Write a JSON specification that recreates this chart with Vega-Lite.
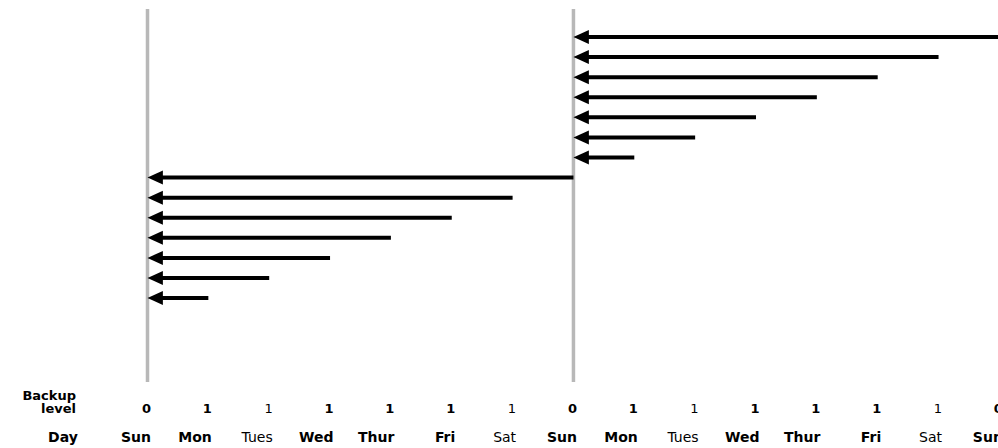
{
  "$schema": "https://vega.github.io/schema/vega-lite/v6.json",
  "width": 998,
  "height": 448,
  "autosize": {"type": "none"},
  "padding": 0,
  "background": "white",
  "config": {"view": {"stroke": null}},
  "datasets": {
    "arrows": [
      {"day": 14, "target": 7, "row": 0},
      {"day": 13, "target": 7, "row": 1},
      {"day": 12, "target": 7, "row": 2},
      {"day": 11, "target": 7, "row": 3},
      {"day": 10, "target": 7, "row": 4},
      {"day": 9, "target": 7, "row": 5},
      {"day": 8, "target": 7, "row": 6},
      {"day": 7, "target": 0, "row": 7},
      {"day": 6, "target": 0, "row": 8},
      {"day": 5, "target": 0, "row": 9},
      {"day": 4, "target": 0, "row": 10},
      {"day": 3, "target": 0, "row": 11},
      {"day": 2, "target": 0, "row": 12},
      {"day": 1, "target": 0, "row": 13}
    ],
    "days": [
      {"day": 0, "name": "Sun", "level": "0"},
      {"day": 1, "name": "Mon", "level": "1"},
      {"day": 2, "name": "Tues", "level": "1"},
      {"day": 3, "name": "Wed", "level": "1"},
      {"day": 4, "name": "Thur", "level": "1"},
      {"day": 5, "name": "Fri", "level": "1"},
      {"day": 6, "name": "Sat", "level": "1"},
      {"day": 7, "name": "Sun", "level": "0"},
      {"day": 8, "name": "Mon", "level": "1"},
      {"day": 9, "name": "Tues", "level": "1"},
      {"day": 10, "name": "Wed", "level": "1"},
      {"day": 11, "name": "Thur", "level": "1"},
      {"day": 12, "name": "Fri", "level": "1"},
      {"day": 13, "name": "Sat", "level": "1"},
      {"day": 14, "name": "Sun", "level": "0"}
    ],
    "fulls": [{"day": 0}, {"day": 7}]
  },
  "layer": [
    {
      "data": {"name": "fulls"},
      "mark": {"type": "rule", "stroke": "#b8b8b8", "strokeWidth": 3.5},
      "encoding": {
        "x": {"field": "day", "type": "quantitative", "scale": {"domain": [-2.424, 13.977], "nice": false, "zero": false}, "axis": null},
        "y": {"datum": -1.394, "type": "quantitative", "scale": {"domain": [-1.843, 20.468], "nice": false, "zero": false, "reverse": true}, "axis": null},
        "y2": {"datum": 17.18}
      }
    },
    {
      "data": {"name": "arrows"},
      "mark": {"type": "rule", "stroke": "black", "strokeWidth": 4, "strokeCap": "butt", "x2Offset": 8},
      "encoding": {
        "x": {"field": "day", "type": "quantitative", "scale": {"domain": [-2.424, 13.977], "nice": false, "zero": false}, "axis": null},
        "x2": {"field": "target"},
        "y": {"field": "row", "type": "quantitative", "scale": {"domain": [-1.843, 20.468], "nice": false, "zero": false, "reverse": true}, "axis": null}
      }
    },
    {
      "data": {"name": "arrows"},
      "mark": {"type": "point", "shape": "M0,0L2.2,-1L2.2,1Z", "size": 196, "filled": true, "fill": "black", "stroke": null, "opacity": 1},
      "encoding": {
        "x": {"field": "target", "type": "quantitative", "scale": {"domain": [-2.424, 13.977], "nice": false, "zero": false}, "axis": null},
        "y": {"field": "row", "type": "quantitative", "scale": {"domain": [-1.843, 20.468], "nice": false, "zero": false, "reverse": true}, "axis": null}
      }
    },
    {
      "data": {"name": "days"},
      "transform": [{"filter": "datum.name !== 'Tues' && datum.name !== 'Sat'"}],
      "mark": {"type": "text", "font": "DejaVu Sans", "fontSize": 13, "fontWeight": "bold", "align": "right", "baseline": "alphabetic", "dx": 3.5, "color": "black"},
      "encoding": {
        "x": {"field": "day", "type": "quantitative", "scale": {"domain": [-2.424, 13.977], "nice": false, "zero": false}, "axis": null},
        "y": {"datum": 18.73, "type": "quantitative", "scale": {"domain": [-1.843, 20.468], "nice": false, "zero": false, "reverse": true}, "axis": null},
        "text": {"field": "level"}
      }
    },
    {
      "data": {"name": "days"},
      "transform": [{"filter": "datum.name === 'Tues' || datum.name === 'Sat'"}],
      "mark": {"type": "text", "font": "DejaVu Sans", "fontSize": 13, "fontWeight": "normal", "align": "right", "baseline": "alphabetic", "dx": 3.5, "color": "black"},
      "encoding": {
        "x": {"field": "day", "type": "quantitative", "scale": {"domain": [-2.424, 13.977], "nice": false, "zero": false}, "axis": null},
        "y": {"datum": 18.73, "type": "quantitative", "scale": {"domain": [-1.843, 20.468], "nice": false, "zero": false, "reverse": true}, "axis": null},
        "text": {"field": "level"}
      }
    },
    {
      "data": {"name": "days"},
      "transform": [{"filter": "datum.name !== 'Tues' && datum.name !== 'Sat'"}],
      "mark": {"type": "text", "font": "DejaVu Sans", "fontSize": 14, "fontWeight": "bold", "align": "right", "baseline": "alphabetic", "dx": 3.5, "color": "black"},
      "encoding": {
        "x": {"field": "day", "type": "quantitative", "scale": {"domain": [-2.424, 13.977], "nice": false, "zero": false}, "axis": null},
        "y": {"datum": 20.19, "type": "quantitative", "scale": {"domain": [-1.843, 20.468], "nice": false, "zero": false, "reverse": true}, "axis": null},
        "text": {"field": "name"}
      }
    },
    {
      "data": {"name": "days"},
      "transform": [{"filter": "datum.name === 'Tues' || datum.name === 'Sat'"}],
      "mark": {"type": "text", "font": "DejaVu Sans", "fontSize": 14, "fontWeight": "normal", "align": "right", "baseline": "alphabetic", "dx": 3.5, "color": "black"},
      "encoding": {
        "x": {"field": "day", "type": "quantitative", "scale": {"domain": [-2.424, 13.977], "nice": false, "zero": false}, "axis": null},
        "y": {"datum": 20.19, "type": "quantitative", "scale": {"domain": [-1.843, 20.468], "nice": false, "zero": false, "reverse": true}, "axis": null},
        "text": {"field": "name"}
      }
    },
    {
      "data": {"values": [{"t": "Backup"}]},
      "mark": {"type": "text", "font": "DejaVu Sans", "fontSize": 13, "fontWeight": "bold", "align": "right", "baseline": "alphabetic", "color": "black"},
      "encoding": {
        "x": {"datum": -1.175, "type": "quantitative", "scale": {"domain": [-2.424, 13.977], "nice": false, "zero": false}, "axis": null},
        "y": {"datum": 18.08, "type": "quantitative", "scale": {"domain": [-1.843, 20.468], "nice": false, "zero": false, "reverse": true}, "axis": null},
        "text": {"field": "t"}
      }
    },
    {
      "data": {"values": [{"t": "level"}]},
      "mark": {"type": "text", "font": "DejaVu Sans", "fontSize": 13, "fontWeight": "bold", "align": "right", "baseline": "alphabetic", "color": "black"},
      "encoding": {
        "x": {"datum": -1.175, "type": "quantitative", "scale": {"domain": [-2.424, 13.977], "nice": false, "zero": false}, "axis": null},
        "y": {"datum": 18.73, "type": "quantitative", "scale": {"domain": [-1.843, 20.468], "nice": false, "zero": false, "reverse": true}, "axis": null},
        "text": {"field": "t"}
      }
    },
    {
      "data": {"values": [{"t": "Day"}]},
      "mark": {"type": "text", "font": "DejaVu Sans", "fontSize": 14, "fontWeight": "bold", "align": "right", "baseline": "alphabetic", "color": "black"},
      "encoding": {
        "x": {"datum": -1.145, "type": "quantitative", "scale": {"domain": [-2.424, 13.977], "nice": false, "zero": false}, "axis": null},
        "y": {"datum": 20.19, "type": "quantitative", "scale": {"domain": [-1.843, 20.468], "nice": false, "zero": false, "reverse": true}, "axis": null},
        "text": {"field": "t"}
      }
    }
  ]
}
